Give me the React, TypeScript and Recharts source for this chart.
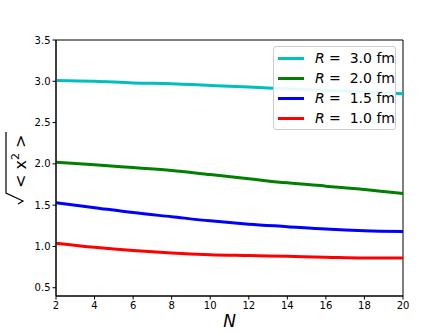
import React from 'react'
import {
  LineChart,
  Line,
  XAxis,
  YAxis,
  ReferenceArea,
} from "recharts";

const nValues = [2, 4, 6, 8, 10, 12, 14, 16, 18, 20];
const r30 = [3.01, 3.0, 2.98, 2.97, 2.95, 2.93, 2.91, 2.89, 2.87, 2.85];
const r20 = [2.02, 1.99, 1.955, 1.92, 1.87, 1.82, 1.77, 1.73, 1.69, 1.64];
const r15 = [1.53, 1.47, 1.41, 1.36, 1.31, 1.27, 1.24, 1.21, 1.19, 1.18];
const r10 = [1.04, 0.99, 0.95, 0.92, 0.9, 0.89, 0.88, 0.87, 0.86, 0.86];

const xTicks = [2, 4, 6, 8, 10, 12, 14, 16, 18, 20];
const yTicks = [0.5, 1.0, 1.5, 2.0, 2.5, 3.0, 3.5];

const series = [
  { key: "r30", label: "3.0", color: "#00bfbf" },
  { key: "r20", label: "2.0", color: "#008000" },
  { key: "r15", label: "1.5", color: "#0000ff" },
  { key: "r10", label: "1.0", color: "#ff0000" },
];

const data = nValues.map((n, i) => ({
  n,
  r30: r30[i],
  r20: r20[i],
  r15: r15[i],
  r10: r10[i],
}));

const font = "'DejaVu Sans', sans-serif";

function YLabel() {
  // sqrt(<x^2>) rotated, radical drawn as a path
  return (
    <g transform="translate(20,176) rotate(-90)" fontFamily={font} fill="#000">
      <path
        d="M -28 -2 L -25 3 L -17 -14 L 44 -14"
        fill="none"
        stroke="#000"
        strokeWidth={1.2}
      />
      <text x={-12} y={6} fontSize={16}>
        &lt; x
        <tspan dy={-7} fontSize={11}>2</tspan>
        <tspan dy={7}> &gt;</tspan>
      </text>
    </g>
  );
}

function LegendBox() {
  return (
    <div
      style={{
        position: "absolute",
        top: 46,
        left: 273,
        width: 123,
        height: 84,
        boxSizing: "border-box",
        border: "1px solid #cccccc",
        borderRadius: 3,
        background: "rgba(255,255,255,0.9)",
        padding: "1px 0 0 4px",
        fontFamily: font,
        fontSize: 14,
      }}
    >
      {series.map((s) => (
        <div key={s.key} style={{ display: "flex", alignItems: "center", height: 20 }}>
          <div style={{ width: 31, height: 3, background: s.color, marginRight: 11 }} />
          <span style={{ whiteSpace: "pre" }}>
            <i>R</i> =  {s.label} fm
          </span>
        </div>
      ))}
    </div>
  );
}

function App() {
  return (
    <div style={{ position: "absolute", left: 0, top: 0, width: 448, height: 333, background: "#fff" }}>
      <LineChart
        width={448}
        height={333}
        data={data}
        margin={{ top: 40, right: 45, bottom: 0, left: 0 }}
      >
        <XAxis
          dataKey="n"
          type="number"
          domain={[2, 20]}
          ticks={xTicks}
          tick={{ fill: "#000", fontSize: 10, fontFamily: font }}
          tickSize={3.5}
          stroke="#000"
          height={37}
          label={{
            value: "N",
            position: "insideBottom",
            offset: 6,
            style: { fontSize: 17, fontStyle: "italic", fontFamily: font, fill: "#000" },
          }}
        />
        <YAxis
          type="number"
          domain={[0.4, 3.5]}
          ticks={yTicks}
          tickFormatter={(v: number) => v.toFixed(1)}
          tick={{ fill: "#000", fontSize: 10, fontFamily: font }}
          tickSize={3.5}
          stroke="#000"
          width={56}
          label={{ content: () => <YLabel /> }}
        />
        <ReferenceArea
          x1={2}
          x2={20}
          y1={0.4}
          y2={3.5}
          fill="none"
          stroke="#000"
          strokeWidth={1}
          ifOverflow="visible"
        />
        {series.map((s) => (
          <Line
            key={s.key}
            type="monotone"
            dataKey={s.key}
            stroke={s.color}
            strokeWidth={3}
            dot={false}
            isAnimationActive={false}
          />
        ))}
      </LineChart>
      <LegendBox />
    </div>
  )
}

export default App
